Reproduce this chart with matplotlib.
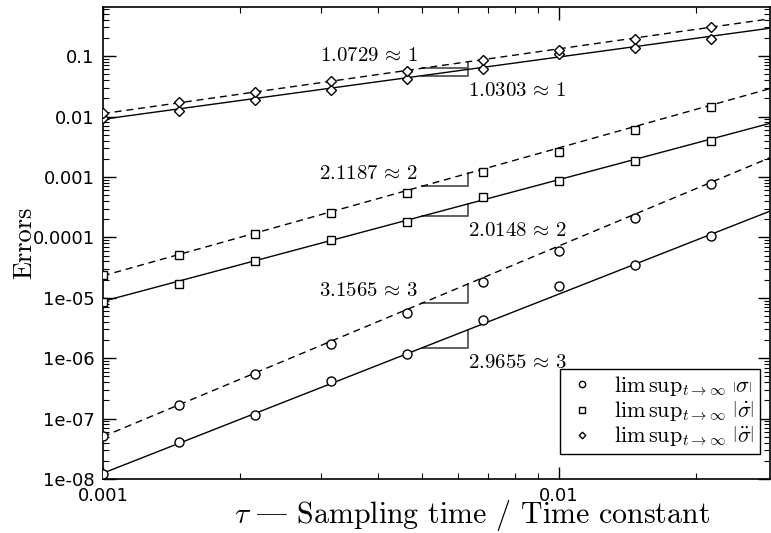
import numpy as np
import matplotlib
matplotlib.use('Agg')
import matplotlib.pyplot as plt
from matplotlib.ticker import FuncFormatter, NullFormatter, LogLocator

plt.rcParams['mathtext.fontset'] = 'cm'

# sampling times (tau)
tau = [0.001, 0.00147, 0.00215, 0.00316, 0.00464, 0.00681, 0.01, 0.0147, 0.0215]

# measured errors, solid = first method, dashed = second method
sigma_solid = [1.20e-8, 4.06e-8, 1.15e-7, 4.17e-7, 1.19e-6, 4.35e-6, 1.58e-5, 3.43e-5, 1.04e-4]
sigma_dashed = [5.22e-8, 1.67e-7, 5.38e-7, 1.74e-6, 5.59e-6, 1.82e-5, 5.9e-5, 2.1e-4, 7.5e-4]
dsigma_solid = [8.4e-6, 1.71e-5, 4.04e-5, 9.1e-5, 1.82e-4, 4.59e-4, 8.44e-4, 1.85e-3, 3.95e-3]
dsigma_dashed = [2.40e-5, 5.14e-5, 1.14e-4, 2.50e-4, 5.42e-4, 1.19e-3, 2.61e-3, 6.01e-3, 0.0144]
ddsigma_solid = [0.00937, 0.01237, 0.01858, 0.02716, 0.0412, 0.061, 0.1066, 0.137, 0.193]
ddsigma_dashed = [0.01159, 0.0174, 0.02576, 0.0387, 0.0566, 0.0849, 0.1256, 0.193, 0.301]

# fitted slopes and fit value at tau = 0.001
slope_solid = [2.9655, 2.0148, 1.0303]
slope_dashed = [3.1565, 2.1187, 1.0729]
c_solid = [1.25e-8, 8.73e-6, 9.02e-3]
c_dashed = [5.04e-8, 2.31e-5, 1.117e-2]

markers = ['o', 's', 'D']
legend_labels = [r'$\mathrm{lim\,sup}_{t\rightarrow\infty}\ \left|\sigma\right|$',
                 r'$\mathrm{lim\,sup}_{t\rightarrow\infty}\ \left|\dot{\sigma}\right|$',
                 r'$\mathrm{lim\,sup}_{t\rightarrow\infty}\ \left|\ddot{\sigma}\right|$']

xlim = (0.001, 0.029)
ylim = (1e-8, 0.65)

fig = plt.figure(figsize=(7.71, 5.33), dpi=100)
ax = fig.add_axes([0.1336, 0.1013, 0.8651, 0.8856])
ax.set_xscale('log')
ax.set_yscale('log')

solid = [sigma_solid, dsigma_solid, ddsigma_solid]
dashed = [sigma_dashed, dsigma_dashed, ddsigma_dashed]
msize = [6.5, 5.5, 4.8]

xl = np.array(xlim)
x1, x2 = 10 ** -2.3, 10 ** -2.2
for i in range(3):
    # fit lines
    ax.plot(xl, c_solid[i] * (xl / 0.001) ** slope_solid[i], '-', color='black', lw=1.0, zorder=2)
    ax.plot(xl, c_dashed[i] * (xl / 0.001) ** slope_dashed[i], '--', color='black', lw=1.0,
            dashes=(5, 3.5), zorder=2)
    # data markers
    ax.plot(tau, solid[i], markers[i], mfc='white', mec='black', mew=1.0, ms=msize[i],
            label=legend_labels[i], zorder=3)
    ax.plot(tau, dashed[i], markers[i], mfc='white', mec='black', mew=1.0, ms=msize[i], zorder=3)

    # slope triangles
    for c, s, below in [(c_dashed[i], slope_dashed[i], False), (c_solid[i], slope_solid[i], True)]:
        y1 = c * (x1 / 0.001) ** s
        y2 = c * (x2 / 0.001) ** s
        ax.plot([x1, x2, x2], [y1, y1, y2], color='#555555', lw=1.3, zorder=1)
        txt = r'$%.4f\,\approx\,%d$' % (s, round(s))
        if below:
            ax.annotate(txt, (x2, y1), xytext=(0, -3), textcoords='offset points',
                        ha='left', va='top', fontsize=15)
        else:
            ax.annotate(txt, (x1, y1), xytext=(-3, 5), textcoords='offset points',
                        ha='right', va='baseline', fontsize=15)

ax.set_xlim(xlim)
ax.set_ylim(ylim)

fmt = FuncFormatter(lambda v, p: '%g' % v)
ax.xaxis.set_major_formatter(fmt)
ax.yaxis.set_major_formatter(fmt)
ax.xaxis.set_minor_formatter(NullFormatter())
ax.yaxis.set_minor_formatter(NullFormatter())
ax.yaxis.set_major_locator(LogLocator(base=10, numticks=20))
ax.yaxis.set_minor_locator(LogLocator(base=10, subs=np.arange(2, 10), numticks=20))

ax.tick_params(which='both', direction='in', top=True, right=True, labelsize=13)
ax.tick_params(which='major', length=9, width=1.0, pad=6)
ax.tick_params(which='minor', length=4.5, width=0.8)
for sp in ax.spines.values():
    sp.set_linewidth(1.2)

# cmr10 keeps the TeX layout: '|' is the em dash glyph there
ax.set_ylabel('Errors', fontsize=19, family='cmr10')
ax.yaxis.set_label_coords(-0.100, 0.5)
ax.set_xlabel(r'$\tau$ | Sampling time / Time constant', fontsize=21.5, family='cmr10')
ax.xaxis.label.set_va('baseline')
ax.xaxis.set_label_coords(0.553, -0.0935)

leg = ax.legend(loc='lower right', bbox_to_anchor=(0.985, 0.053), numpoints=1,
                fancybox=False, framealpha=1, edgecolor='black', fontsize=16,
                markerscale=0.7, handlelength=1.5, handletextpad=0.7,
                borderpad=0.25, labelspacing=0.05, borderaxespad=0)
leg.get_frame().set_linewidth(1.0)

fig.savefig('out.png', dpi=100)
